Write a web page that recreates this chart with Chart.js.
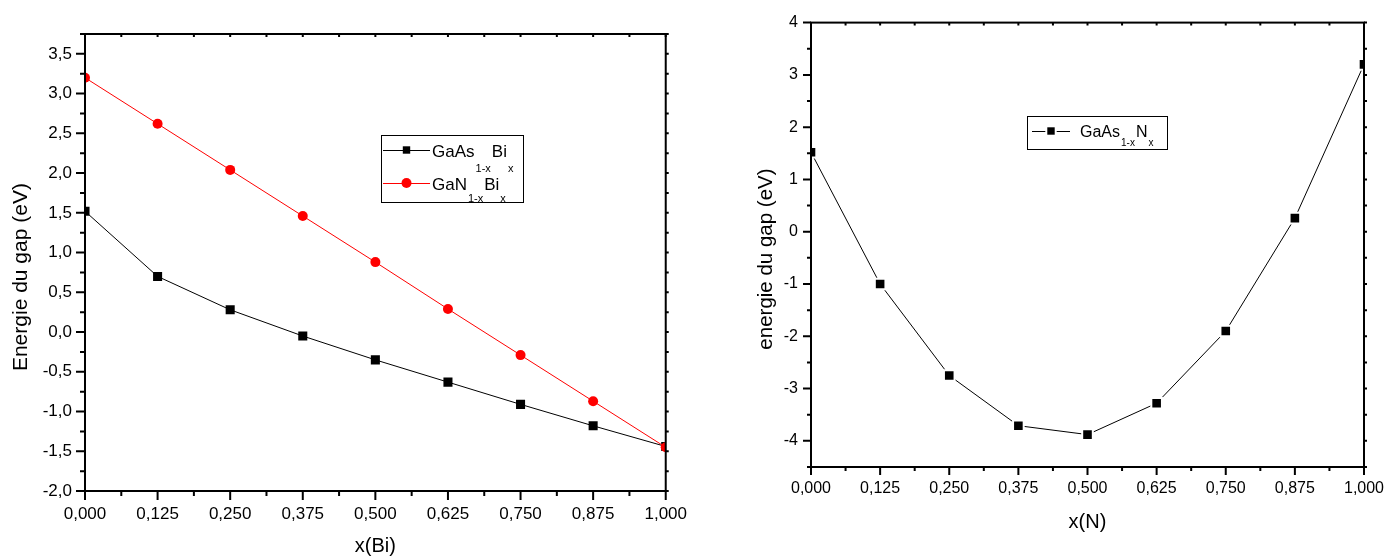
<!DOCTYPE html>
<html>
<head>
<meta charset="utf-8">
<script src="https://cdn.jsdelivr.net/npm/chart.js@4.4.1/dist/chart.umd.min.js"></script>
<style>
  html, body { margin: 0; padding: 0; background: #fff; }
  #wrap { position: relative; width: 1400px; height: 558px; background: #fff; }
  .pane { position: absolute; top: 0; width: 700px; height: 558px; }
</style>
</head>
<body>
<div id="wrap">
  <div class="pane" style="left:0"><canvas id="chartBi" width="700" height="558"></canvas></div>
  <div class="pane" style="left:700px"><canvas id="chartN" width="700" height="558"></canvas></div>
</div>
<script>
// composition x (also the x tick labels of both plots)
const xValues = [0, 0.125, 0.25, 0.375, 0.5, 0.625, 0.75, 0.875, 1];

// gap energies in eV
const gapGaAsBi = [1.52, 0.70, 0.28, -0.05, -0.35, -0.63, -0.91, -1.18, -1.44];
const gapGaNBi = [3.20, 2.62, 2.04, 1.46, 0.88, 0.29, -0.29, -0.87, -1.45];
const gapGaAsN = [1.52, -1.00, -2.75, -3.71, -3.88, -3.28, -1.90, 0.26, 3.20];

// y tick labels
const yTicksBi = [-2, -1.5, -1, -0.5, 0, 0.5, 1, 1.5, 2, 2.5, 3, 3.5];
const yTicksN = [-4, -3, -2, -1, 0, 1, 2, 3, 4];

// series names, _{...} marks a subscript
const labelGaAsBi = "GaAs_{1-x}Bi_{x}";
const labelGaNBi = "GaN_{1-x}Bi_{x}";
const labelGaAsN = "GaAs_{1-x}N_{x}";

const FONT = '"Liberation Sans", Arial, sans-serif';
const comma = (v, d) => v.toFixed(d).replace(".", ",");
const pts = (ys) => xValues.map((x, i) => ({ x: x, y: ys[i] }));
// trailing blanks push the rotated title a little below the middle
const lowered = (t) => t + "     ";

// frame round the plot area with major/minor ticks on all four sides
const frameTicks = {
  id: "frameTicks",
  afterDatasetsDraw(chart, args, o) {
    const { ctx, chartArea: a, scales: { x, y } } = chart;
    const major = (v, step) => Math.abs(v / step - Math.round(v / step)) < 1e-6;
    ctx.save();
    ctx.strokeStyle = "#000";
    ctx.lineWidth = 2;
    ctx.beginPath();
    for (let v = x.min; v <= x.max + 1e-9; v += o.xStep) {
      const px = x.getPixelForValue(v);
      ctx.moveTo(px, a.bottom);
      ctx.lineTo(px, a.bottom + (major(v, o.xMajor) ? o.major : o.minor));
      ctx.moveTo(px, a.top);
      ctx.lineTo(px, a.top + o.mirror);
    }
    for (let v = y.min; v <= y.max + 1e-9; v += o.yStep) {
      const py = y.getPixelForValue(v);
      ctx.moveTo(a.left, py);
      ctx.lineTo(a.left - (major(v, o.yMajor) ? o.major : o.minor), py);
      ctx.moveTo(a.right, py);
      ctx.lineTo(a.right + o.mirror, py);
    }
    ctx.stroke();
    ctx.strokeRect(a.left, a.top, a.right - a.left, a.bottom - a.top);
    ctx.restore();
  }
};

// writes "GaAs_{1-x}Bi_{x}" with real subscripts
function drawRich(ctx, text, x, y, size, subSize, subDrop) {
  text.split(/_\{([^}]*)\}/).forEach((part, i) => {
    const sub = i % 2 === 1;
    ctx.font = (sub ? subSize : size) + "px " + FONT;
    ctx.fillText(part, x, sub ? y + subDrop : y);
    x += ctx.measureText(part).width + 1;
  });
}

function drawMarker(ctx, ds, x, y, r, gap) {
  if (gap) {
    ctx.fillStyle = "#fff";
    ctx.fillRect(x - r - gap, y - r - gap, 2 * (r + gap), 2 * (r + gap));
  }
  ctx.fillStyle = ds.pointBackgroundColor;
  if (ds.pointStyle === "rect") {
    ctx.fillRect(x - r, y - r, 2 * r, 2 * r);
  } else {
    ctx.beginPath();
    ctx.arc(x, y, r, 0, Math.PI * 2);
    ctx.fill();
  }
}

// boxed legend with line + marker samples
const richLegend = {
  id: "richLegend",
  afterDraw(chart, args, o) {
    const ctx = chart.ctx;
    ctx.save();
    ctx.fillStyle = "#fff";
    ctx.fillRect(o.left, o.top, o.width, o.height);
    ctx.strokeStyle = "#000";
    ctx.lineWidth = 1;
    ctx.strokeRect(o.left + 0.5, o.top + 0.5, o.width, o.height);
    o.rows.forEach((row) => {
      const ds = chart.data.datasets[row.index];
      ctx.strokeStyle = ds.borderColor;
      ctx.lineWidth = 1;
      ctx.beginPath();
      ctx.moveTo(o.lineFrom, row.y + 0.5);
      ctx.lineTo(o.lineTo, row.y + 0.5);
      ctx.stroke();
      drawMarker(ctx, ds, (o.lineFrom + o.lineTo) / 2, row.y, row.marker, o.gap);
      ctx.fillStyle = "#000";
      ctx.textBaseline = "alphabetic";
      drawRich(ctx, ds.label, o.textX, row.y + o.baseline, o.size, o.subSize, row.subDrop);
    });
    ctx.restore();
  }
};

// left: GaAs1-xBix and GaN1-xBix against x(Bi)
new Chart(document.getElementById("chartBi"), {
  type: "line",
  data: {
    datasets: [
      {
        label: labelGaAsBi,
        data: pts(gapGaAsBi),
        borderColor: "#000000",
        backgroundColor: "#000000",
        pointBackgroundColor: "#000000",
        borderWidth: 1,
        pointStyle: "rect",
        pointRadius: 6.4,
        pointBorderWidth: 0,
        clip: 0,
        order: 1
      },
      {
        label: labelGaNBi,
        data: pts(gapGaNBi),
        borderColor: "#ff0000",
        backgroundColor: "#ff0000",
        pointBackgroundColor: "#ff0000",
        borderWidth: 1,
        pointStyle: "circle",
        pointRadius: 5,
        pointBorderWidth: 0,
        clip: 0,
        order: 0
      }
    ]
  },
  options: {
    responsive: false,
    animation: false,
    layout: { padding: { left: 0, top: 34, right: 32, bottom: 0 } },
    scales: {
      x: {
        type: "linear",
        min: 0,
        max: 1,
        afterBuildTicks: (s) => { s.ticks = xValues.map((v) => ({ value: v })); },
        afterFit: (s) => { s.height = 67; },
        grid: { display: false, drawTicks: false, tickLength: 0 },
        border: { display: false },
        ticks: {
          callback: (v) => comma(v, 3),
          color: "#000",
          font: { family: FONT, size: 17 },
          padding: 13,
          maxRotation: 0,
          autoSkip: false
        },
        title: {
          display: true,
          text: "x(Bi)",
          color: "#000",
          font: { family: FONT, size: 20 },
          padding: { top: 0, bottom: 0 }
        }
      },
      y: {
        min: -2,
        max: 3.75,
        afterBuildTicks: (s) => { s.ticks = yTicksBi.map((v) => ({ value: v })); },
        afterFit: (s) => { s.width = 85; },
        grid: { display: false, drawTicks: false, tickLength: 0 },
        border: { display: false },
        ticks: {
          callback: (v) => comma(v, 1),
          color: "#000",
          font: { family: FONT, size: 17 },
          padding: 13,
          autoSkip: false
        },
        title: {
          display: true,
          text: lowered("Energie du gap (eV)"),
          color: "#000",
          font: { family: FONT, size: 21 },
          padding: { top: 9, bottom: 0 }
        }
      }
    },
    plugins: {
      legend: { display: false },
      tooltip: { enabled: false },
      frameTicks: { xStep: 0.0625, xMajor: 0.125, yStep: 0.25, yMajor: 0.5, major: 9, minor: 5, mirror: 3 },
      richLegend: {
        left: 381, top: 135, width: 142, height: 67,
        lineFrom: 383, lineTo: 430, textX: 432, gap: 0,
        size: 17, subSize: 11, baseline: 7,
        rows: [
          { index: 0, y: 150, marker: 3.7, subDrop: 15 },
          { index: 1, y: 183, marker: 5, subDrop: 12 }
        ]
      }
    }
  },
  plugins: [frameTicks, richLegend]
});

// right: GaAs1-xNx against x(N)
new Chart(document.getElementById("chartN"), {
  type: "line",
  data: {
    datasets: [
      {
        label: labelGaAsN,
        data: pts(gapGaAsN),
        borderColor: "#000000",
        backgroundColor: "#000000",
        pointBackgroundColor: "#000000",
        pointBorderColor: "#ffffff",
        borderWidth: 1,
        pointStyle: "rect",
        pointRadius: 7.5,
        pointBorderWidth: 2,
        clip: 0
      }
    ]
  },
  options: {
    responsive: false,
    animation: false,
    layout: { padding: { left: 0, top: 21, right: 36, bottom: 0 } },
    scales: {
      x: {
        type: "linear",
        min: 0,
        max: 1,
        afterBuildTicks: (s) => { s.ticks = xValues.map((v) => ({ value: v })); },
        afterFit: (s) => { s.height = 91; },
        grid: { display: false, drawTicks: false, tickLength: 0 },
        border: { display: false },
        ticks: {
          callback: (v) => comma(v, 3),
          color: "#000",
          font: { family: FONT, size: 16 },
          padding: 12,
          maxRotation: 0,
          autoSkip: false
        },
        title: {
          display: true,
          text: "x(N)",
          color: "#000",
          font: { family: FONT, size: 20 },
          padding: { top: 0, bottom: 24 }
        }
      },
      y: {
        min: -4.5,
        max: 4,
        afterBuildTicks: (s) => { s.ticks = yTicksN.map((v) => ({ value: v })); },
        afterFit: (s) => { s.width = 111; },
        grid: { display: false, drawTicks: false, tickLength: 0 },
        border: { display: false },
        ticks: {
          color: "#000",
          font: { family: FONT, size: 16 },
          padding: 13,
          autoSkip: false
        },
        title: {
          display: true,
          text: lowered("energie du gap (eV)"),
          color: "#000",
          font: { family: FONT, size: 20.5 },
          padding: { top: 54, bottom: 0 }
        }
      }
    },
    plugins: {
      legend: { display: false },
      tooltip: { enabled: false },
      frameTicks: { xStep: 0.0625, xMajor: 0.125, yStep: 0.5, yMajor: 1, major: 8, minor: 4, mirror: 3 },
      richLegend: {
        left: 327, top: 116, width: 140, height: 33,
        lineFrom: 332, lineTo: 370, textX: 380, gap: 2,
        size: 16, subSize: 10, baseline: 6,
        rows: [{ index: 0, y: 131, marker: 3.7, subDrop: 9 }]
      }
    }
  },
  plugins: [frameTicks, richLegend]
});
</script>
</body>
</html>
